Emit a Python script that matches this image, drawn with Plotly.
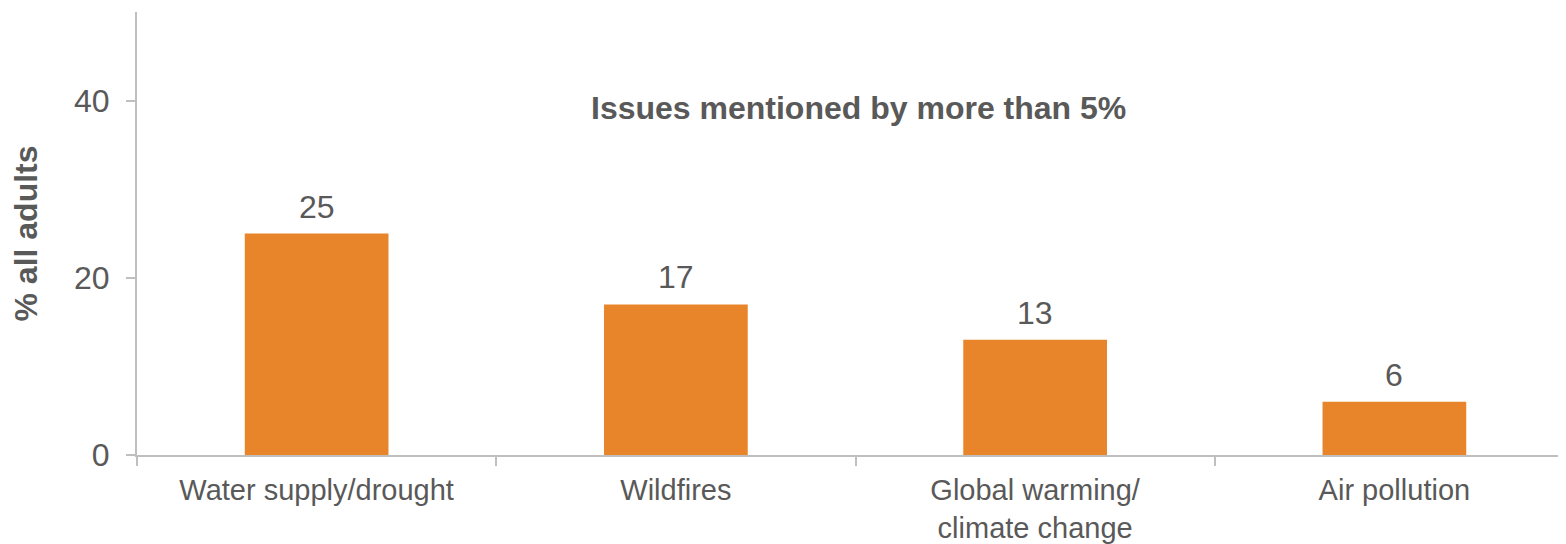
import plotly.graph_objects as go

categories = ["Water supply/drought", "Wildfires", "Global warming/<br>climate change", "Air pollution"]
values = [25, 17, 13, 6]
y_ticks = [0, 20, 40]
title_text = "Issues mentioned by more than 5%"
y_title = "% all adults"

TEXT = "#595959"
AXIS = "#BFBFBF"
BAR = "#E8842A"
FONT = "Liberation Sans, Arial, sans-serif"
FS = 32
XFS = 29

fig = go.Figure()
fig.add_trace(go.Bar(
    x=categories, y=values, marker=dict(color=BAR, line=dict(width=0)),
    width=0.4, hoverinfo="skip",
))

for c, v in zip(categories, values):
    fig.add_annotation(x=c, y=v, xref="x", yref="y", text=str(v), showarrow=False,
                       yanchor="bottom", yshift=7,
                       font=dict(family=FONT, size=FS, color=TEXT))

fig.add_annotation(x=0.502, y=39.2, xref="paper", yref="y", text="<b>" + title_text + "</b>",
                   showarrow=False, yanchor="middle", xanchor="center",
                   font=dict(family=FONT, size=FS, color=TEXT))

fig.update_layout(
    width=1566, height=544,
    margin=dict(l=129, r=0, t=4, b=97),
    paper_bgcolor="white", plot_bgcolor="white",
    showlegend=False,
    font=dict(family=FONT, color=TEXT, size=FS),
    bargap=0.6,
)
fig.update_xaxes(
    showline=True, linecolor=AXIS, linewidth=2,
    ticks="outside", tickcolor=AXIS, ticklen=9, tickwidth=2,
    tickson="boundaries", showgrid=False, ticklabelstandoff=8,
    tickfont=dict(family=FONT, size=XFS, color=TEXT),
)
fig.update_yaxes(
    range=[0, 50], tickvals=y_ticks, showline=True, linecolor=AXIS, linewidth=2,
    ticks="outside", tickcolor=AXIS, ticklen=9, tickwidth=2, showgrid=False, zeroline=False,
    tickfont=dict(family=FONT, size=FS, color=TEXT), ticklabelstandoff=10,
    title=dict(text="<b>" + y_title + "</b>", font=dict(family=FONT, size=FS, color=TEXT), standoff=27),
)

fig.write_html("out.html")
